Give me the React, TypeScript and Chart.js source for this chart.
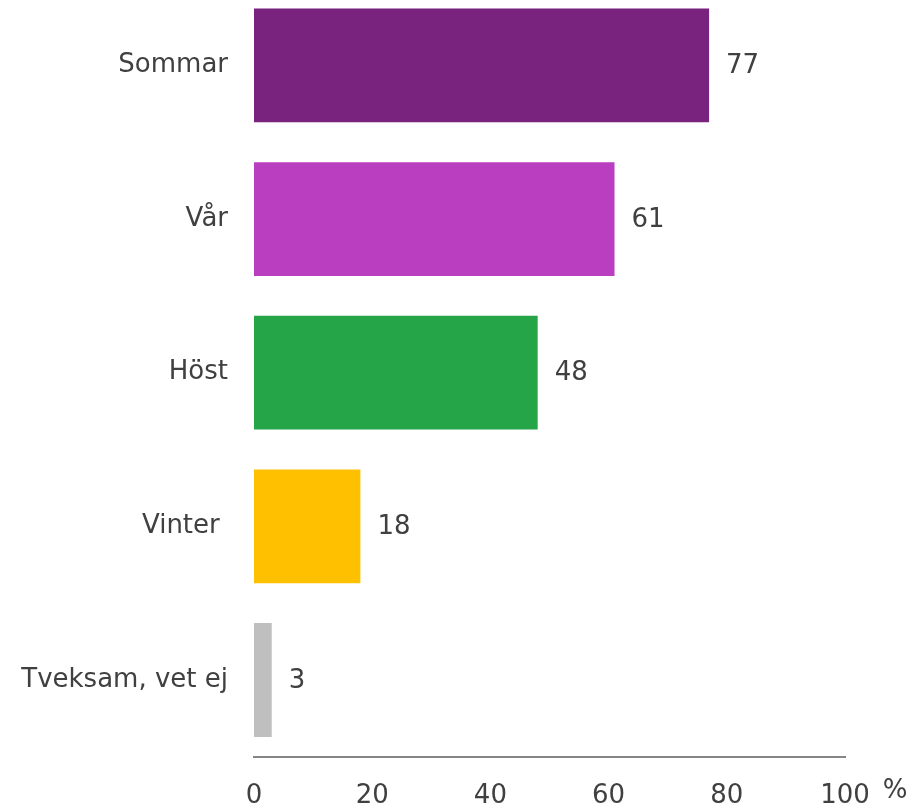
import React, { useEffect, useRef } from "react";
import { Chart, registerables } from "chart.js";

Chart.register(...registerables);

const categories = ["Sommar", "Vår", "Höst", "Vinter ", "Tveksam, vet ej"];
const values = [77, 61, 48, 18, 3];
const barColors = ["#7A237E", "#B93FC0", "#25A547", "#FFC000", "#BFBFBF"];
const xTicks = [0, 20, 40, 60, 80, 100];
const unitLabel = "%";

const FONT = "'DejaVu Sans', Verdana, sans-serif";
const TEXT = "#404040";
const FS = 26;

export default function App() {
  const ref = useRef<HTMLCanvasElement | null>(null);

  useEffect(() => {
    if (!ref.current) return;
    const valueLabels = {
      id: "valueLabels",
      afterDatasetsDraw(chart: any) {
        const ctx = chart.ctx;
        const meta = chart.getDatasetMeta(0);
        ctx.save();
        ctx.font = `${FS}px ${FONT}`;
        ctx.fillStyle = TEXT;
        ctx.textAlign = "left";
        ctx.textBaseline = "middle";
        meta.data.forEach((bar: any, i: number) => {
          ctx.fillText(String(values[i]), bar.x + 17, bar.y + 1);
        });
        const xs = chart.scales.x;
        ctx.textAlign = "center";
        ctx.fillText(unitLabel, xs.right + 50, 818);
        ctx.restore();
      },
    };
    const chart = new Chart(ref.current, {
      type: "bar",
      data: {
        labels: categories,
        datasets: [
          {
            data: values,
            backgroundColor: barColors,
            borderWidth: 0,
            barPercentage: 0.741,
            categoryPercentage: 1,
          },
        ],
      },
      options: {
        indexAxis: "y",
        animation: false,
        responsive: false,
        maintainAspectRatio: false,
        layout: { padding: { top: 0, right: 67, bottom: 0, left: 0 } },
        plugins: {
          legend: { display: false },
          tooltip: { enabled: false },
        },
        scales: {
          x: {
            min: 0,
            max: 100,
            afterBuildTicks: (scale: any) => {
              scale.ticks = xTicks.map((v) => ({ value: v }));
            },
            grid: { display: false, drawTicks: false },
            border: { display: true, color: "#868686", width: 2 },
            ticks: {
              padding: 24,
              color: TEXT,
              font: { family: FONT, size: FS },
              maxRotation: 0,
            },
          },
          y: {
            grid: { display: false, drawTicks: true, tickLength: 26 },
            border: { display: false },
            afterFit: (scale: any) => {
              scale.width = 254;
            },
            ticks: {
              padding: 0,
              color: TEXT,
              font: { family: FONT, size: FS },
            },
          },
        },
      },
      plugins: [valueLabels],
    });
    return () => chart.destroy();
  }, []);

  return (
    <div
      style={{
        position: "fixed",
        left: 0,
        top: 0,
        width: 912,
        height: 805,
        overflow: "hidden",
        background: "#fff",
      }}
    >
      <canvas
        ref={ref}
        width={912}
        height={863}
        style={{ position: "absolute", left: 0, top: -27, width: 912, height: 863 }}
      />
    </div>
  );
}
